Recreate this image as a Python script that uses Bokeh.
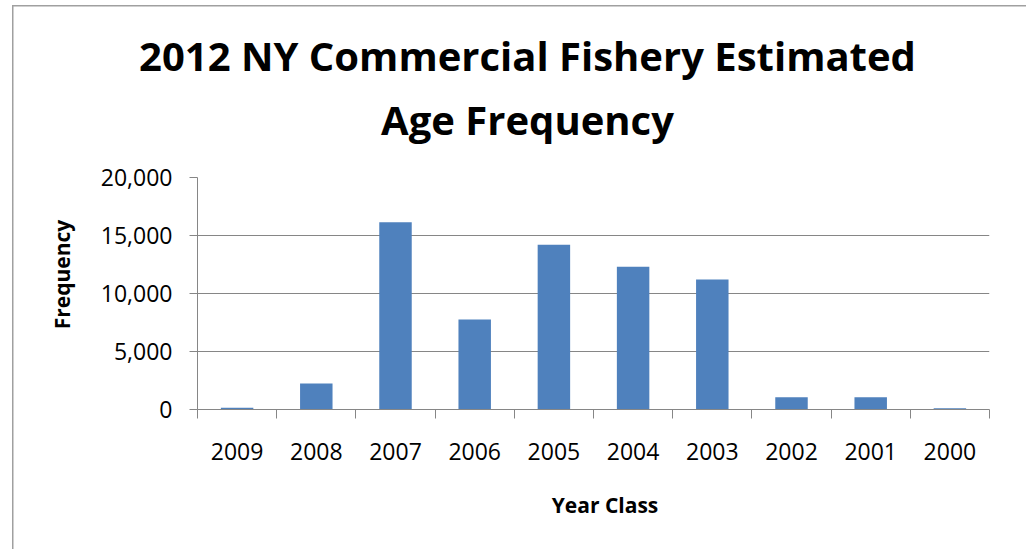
from bokeh.plotting import figure
from bokeh.models import (Range1d, FixedTicker, NumeralTickFormatter, Label,
                          ColumnDataSource)
from bokeh.embed import file_html
from bokeh.resources import INLINE
import math

# ---- data ----
years = ["2009", "2008", "2007", "2006", "2005", "2004", "2003", "2002", "2001", "2000"]
frequency = [150, 2250, 16150, 7750, 14200, 12300, 11200, 1050, 1050, 100]
y_ticks = [0, 5000, 10000, 15000, 20000]
title_lines = ["2012 NY Commercial Fishery Estimated", "Age Frequency"]
x_title = "Year Class"
y_title = "Frequency"

FONT = "Open Sans"
GRAY = "#868686"

idx = list(range(len(years)))
src = ColumnDataSource(dict(x=idx, top=frequency, year=years))

p = figure(width=1026, height=549, output_backend="svg", toolbar_location=None,
           title=None,
           x_range=Range1d(-0.5, len(years) - 0.5), y_range=Range1d(0, 20000),
           min_border_left=197, min_border_right=37, min_border_top=177,
           min_border_bottom=140)
p.outline_line_color = None
p.background_fill_color = "white"
p.border_fill_color = None
# outer chart-area border (left and top edges visible in the reference)
p.styles = {
    "background": ("linear-gradient(#A0A0A0, #A0A0A0) 12px 5px / 1.5px 100% no-repeat, "
                   "linear-gradient(#A0A0A0, #A0A0A0) 12px 5px / 100% 1.5px no-repeat, white"),
}

p.vbar(x="x", top="top", width=0.41, source=src, fill_color="#4F81BD", line_color=None)

# x axis: labels at centers, tick marks at category boundaries
xa = p.xaxis[0]
xa.ticker = FixedTicker(ticks=idx, minor_ticks=[i - 0.5 for i in range(len(years) + 1)])
xa.major_label_overrides = {i: y for i, y in zip(idx, years)}
xa.major_tick_out = 0
xa.major_tick_in = 0
xa.minor_tick_out = 9
xa.minor_tick_in = 0
xa.minor_tick_line_color = GRAY
xa.axis_line_color = GRAY
xa.major_label_text_font = FONT
xa.major_label_text_font_size = "23px"
xa.major_label_text_color = "black"
xa.major_label_standoff = 24

ya = p.yaxis[0]
ya.ticker = FixedTicker(ticks=y_ticks)
ya.formatter = NumeralTickFormatter(format="0,0")
ya.major_tick_out = 8
ya.major_tick_in = 0
ya.minor_tick_out = 0
ya.minor_tick_in = 0
ya.major_tick_line_color = GRAY
ya.axis_line_color = GRAY
ya.major_label_text_font = FONT
ya.major_label_text_font_size = "23px"
ya.major_label_text_color = "black"
ya.major_label_standoff = 17

p.xgrid.grid_line_color = None
p.ygrid.grid_line_color = GRAY
p.ygrid.grid_line_width = 1.2
p.ygrid.ticker = FixedTicker(ticks=y_ticks)

# titles and axis titles as labels in side panels (not clipped to the frame)
p.add_layout(Label(x=330, y=58, x_units="screen", y_units="screen", text=title_lines[1],
                   text_align="center", text_baseline="middle", text_font=FONT,
                   text_font_size="40px", text_font_style="bold", text_color="black"),
             "above")
p.add_layout(Label(x=330, y=67.5, x_units="screen", y_units="screen", text=title_lines[0],
                   text_align="center", text_baseline="middle", text_font=FONT,
                   text_font_size="40px", text_font_style="bold", text_color="black"),
             "above")
p.add_layout(Label(x=407.5, y=-14, x_units="screen", y_units="screen", text=x_title,
                   text_align="center", text_baseline="middle", text_font=FONT,
                   text_font_size="21px", text_font_style="bold", text_color="black"),
             "below")
p.add_layout(Label(x=-8, y=135, x_units="screen", y_units="screen", text=y_title,
                   angle=math.pi / 2, text_align="center", text_baseline="middle",
                   text_font=FONT, text_font_size="21px", text_font_style="bold",
                   text_color="black"),
             "left")

open("out.html", "w").write(file_html(p, INLINE))
